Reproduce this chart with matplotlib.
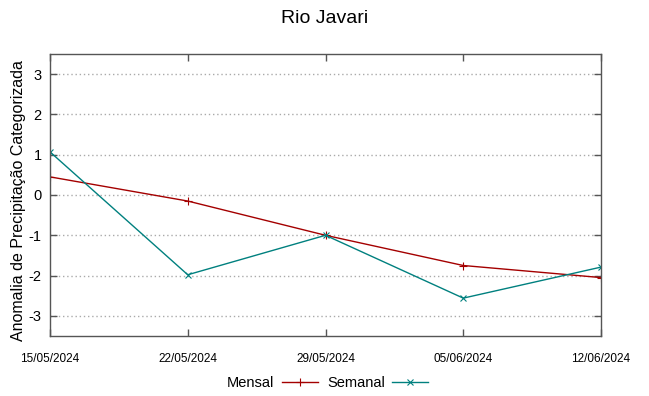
import numpy as np
import matplotlib
matplotlib.use("Agg")
import matplotlib.pyplot as plt

plt.rcParams['font.family'] = ['Liberation Sans', 'DejaVu Sans']

# data
datas = ["15/05/2024", "22/05/2024", "29/05/2024", "05/06/2024", "12/06/2024"]
mensal = [0.45, -0.15, -1.0, -1.75, -2.05]
semanal = [1.07, -1.98, -1.0, -2.56, -1.79]
yticks = [-3, -2, -1, 0, 1, 2, 3]

x = np.arange(len(datas))

fig = plt.figure(figsize=(6.49, 3.96), dpi=100)
ax = fig.add_axes([50/649, 1 - 336/396, 551/649, 282/396])

ax.plot(x, mensal, color='#a40000', lw=1.0, marker='+', ms=6, mew=0.8, label='Mensal')
ax.plot(x, semanal, color='#00807f', lw=1.0, marker='x', ms=5, mew=0.8, label='Semanal')

ax.set_xlim(0, len(datas) - 1)
ax.set_ylim(-3.5, 3.5)
ax.set_xticks(x)
ax.set_xticklabels(datas, fontsize=8.5)
ax.set_yticks(yticks)
ax.set_yticklabels([str(v) for v in yticks], fontsize=10.5)
ax.tick_params(direction='in', top=True, right=True, length=5, width=1, color='#555555')
ax.tick_params(axis='x', pad=12)
ax.tick_params(axis='y', pad=6)
for s in ax.spines.values():
    s.set_color('#555555')
    s.set_linewidth(1.0)
ax.yaxis.grid(True, linestyle=(0, (1, 2)), color='#aaaaaa', lw=1.0)

ax.set_ylabel("Anomalia de Precipitação Categorizada", fontsize=11.5)
ax.yaxis.set_label_coords(-0.043, 0.48)
fig.suptitle("Rio Javari", fontsize=14, y=0.975)

fig.legend(loc='center', bbox_to_anchor=(0.505, 1 - 383/396), ncol=2, frameon=False,
           markerfirst=False, fontsize=10.5, handlelength=2.5, columnspacing=0.6,
           handletextpad=0.5)

fig.savefig("out.png", dpi=100)
